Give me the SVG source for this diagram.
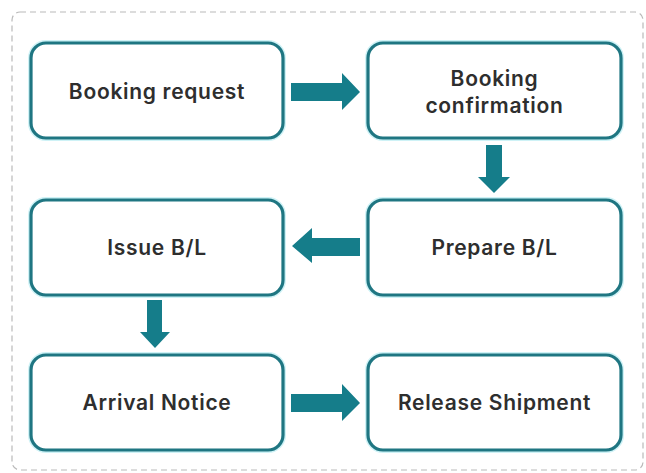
<svg xmlns="http://www.w3.org/2000/svg" width="646" height="473" viewBox="0 0 646 473">
<style>
.frame{fill:#fff;stroke:#b9b9b9;stroke-width:1.2;stroke-dasharray:6 4}
.box{fill:#fff;stroke:#1f7682;stroke-width:3.2}
.glow{fill:none;stroke:#9ee6ee;stroke-width:6;opacity:0.5}
.lbl{font-family:Inter,"Noto Sans","Liberation Sans",sans-serif;font-weight:600;font-size:21px;letter-spacing:0.7px;fill:#2e2e2e;text-anchor:middle;dominant-baseline:central}
.arr{fill:#157d8a}
</style>
<rect width="646" height="473" fill="#fff"/>
<rect class="frame" x="12" y="12" width="631" height="458" rx="8"/>
<g id="n1"><rect class="glow" x="31" y="43" width="252" height="95" rx="15"/><rect class="box" x="31" y="43" width="252" height="95" rx="15"/><text class="lbl" x="157" y="91">Booking request</text></g>
<g id="n2"><rect class="glow" x="368" y="43" width="253" height="95" rx="15"/><rect class="box" x="368" y="43" width="253" height="95" rx="15"/><text class="lbl" x="494.5" y="78">Booking</text><text class="lbl" x="494.5" y="105">confirmation</text></g>
<g id="n3"><rect class="glow" x="31" y="200" width="252" height="95" rx="15"/><rect class="box" x="31" y="200" width="252" height="95" rx="15"/><text class="lbl" x="157" y="247">Issue B/L</text></g>
<g id="n4"><rect class="glow" x="368" y="200" width="253" height="95" rx="15"/><rect class="box" x="368" y="200" width="253" height="95" rx="15"/><text class="lbl" x="494.5" y="247">Prepare B/L</text></g>
<g id="n5"><rect class="glow" x="31" y="355" width="252" height="95" rx="15"/><rect class="box" x="31" y="355" width="252" height="95" rx="15"/><text class="lbl" x="157" y="402">Arrival Notice</text></g>
<g id="n6"><rect class="glow" x="368" y="355" width="253" height="95" rx="15"/><rect class="box" x="368" y="355" width="253" height="95" rx="15"/><text class="lbl" x="494.5" y="402">Release Shipment</text></g>
<g id="connectors">
<polygon class="arr" points="291,83 342,83 342,73 360,92 342,110 342,101 291,101"/>
<polygon class="arr" points="486,145 502,145 502,177 510,177 494,193 478,177 486,177"/>
<polygon class="arr" points="360,238 312,238 312,228 292,246 312,263 312,256 360,256"/>
<polygon class="arr" points="147,300 162,300 162,332 170,332 155,348 140,332 147,332"/>
<polygon class="arr" points="291,394 342,394 342,384 360,403 342,421 342,412 291,412"/>
</g>
</svg>
